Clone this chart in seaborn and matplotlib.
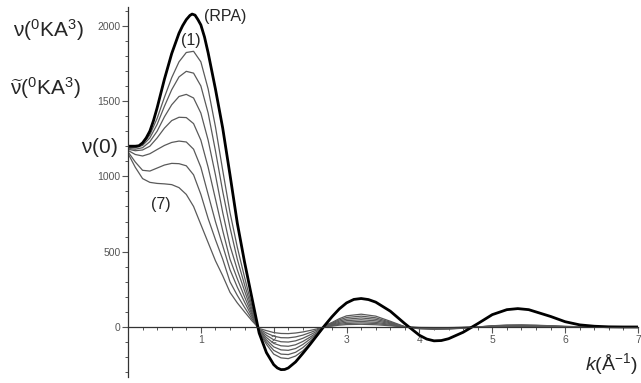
import numpy as np
import pandas as pd
import matplotlib
matplotlib.use("Agg")
import matplotlib.pyplot as plt
from matplotlib.ticker import MultipleLocator, FixedLocator
import seaborn as sns

# ---- data ----
k = [0.0, 0.1, 0.2, 0.3, 0.4, 0.5, 0.6, 0.7, 0.8, 0.9, 1.0, 1.1, 1.2, 1.3, 1.4,
     1.5, 1.6, 1.7, 1.8, 1.9, 2.0, 2.1, 2.2, 2.3, 2.4, 2.5, 2.6, 2.7, 2.8, 2.9,
     3.0, 3.2, 3.4, 3.6, 3.8, 4.0, 4.2, 4.4, 4.6, 4.8, 5.0, 5.2, 5.4, 5.6, 5.8,
     6.0, 6.2, 6.4, 6.6, 6.8, 7.0]

k_rpa = [0.0, 0.1, 0.15, 0.2, 0.25, 0.3, 0.35, 0.4, 0.5, 0.6, 0.7, 0.75, 0.8,
         0.85, 0.88, 0.92, 0.96, 1.0, 1.05, 1.1, 1.2, 1.3, 1.4, 1.5, 1.6, 1.7,
         1.8, 1.9, 2.0, 2.05, 2.1, 2.15, 2.2, 2.3, 2.4, 2.5, 2.6, 2.7, 2.8, 2.9,
         3.0, 3.1, 3.2, 3.3, 3.4, 3.6, 3.8, 4.0, 4.1, 4.2, 4.3, 4.4, 4.6, 4.8,
         5.0, 5.2, 5.35, 5.5, 5.6, 5.8, 6.0, 6.2, 6.4, 6.6, 6.8, 7.0]
rpa = [1200, 1200, 1203, 1222, 1255, 1300, 1370, 1455, 1645, 1815, 1950, 2000,
       2040, 2068, 2077, 2070, 2040, 2005, 1925, 1820, 1580, 1320, 1010, 690,
       430, 195, -40, -170, -250, -272, -283, -282, -272, -232, -175, -115, -52,
       10, 68, 120, 160, 183, 189, 182, 165, 105, 22, -55, -80, -92, -90, -78,
       -35, 22, 82, 115, 122, 115, 100, 70, 35, 14, 5, 1, 0, 0]

c1 = [1198, 1195, 1212, 1275, 1385, 1525, 1655, 1760, 1822, 1830, 1760, 1580,
      1330, 1040, 760, 530, 330, 140, -35, -115, -180, -205, -210, -193, -158,
      -110, -57, 10, 30, 55, 74, 85, 72, 38, 2, -12, -16, -14, -8, 0, 8, 13, 14,
      12, 8, 4, 2, 0, 0, 0, 0]
c2 = [1192, 1190, 1205, 1255, 1345, 1465, 1575, 1660, 1697, 1685, 1600, 1420,
      1170, 900, 660, 450, 280, 120, -30, -100, -155, -180, -183, -168, -137,
      -95, -50, 9, 25, 47, 63, 72, 61, 32, 1, -10, -14, -12, -7, 0, 7, 11, 12,
      10, 7, 3, 2, 0, 0, 0, 0]
c3 = [1186, 1180, 1190, 1230, 1300, 1395, 1475, 1530, 1544, 1520, 1420, 1240,
      1010, 760, 540, 380, 240, 100, -25, -85, -132, -152, -155, -143, -116,
      -80, -42, 8, 21, 39, 52, 60, 51, 27, 1, -8, -11, -10, -6, 0, 6, 9, 10, 8,
      6, 3, 1, 0, 0, 0, 0]
c4 = [1180, 1170, 1175, 1200, 1255, 1320, 1370, 1392, 1390, 1350, 1240, 1060,
      850, 640, 450, 320, 200, 85, -22, -70, -109, -125, -128, -118, -96, -67,
      -35, 6, 17, 31, 42, 48, 41, 22, 1, -7, -9, -8, -4, 0, 4, 7, 8, 7, 4, 2, 1,
      0, 0, 0, 0]
c5 = [1172, 1145, 1135, 1150, 1178, 1205, 1225, 1234, 1228, 1180, 1060, 880,
      700, 540, 380, 265, 165, 70, -18, -55, -85, -98, -100, -92, -75, -52, -27,
      5, 13, 24, 32, 37, 31, 17, 0, -5, -7, -6, -4, 0, 4, 6, 6, 5, 4, 2, 1, 0,
      0, 0, 0]
c6 = [1163, 1095, 1040, 1035, 1055, 1075, 1086, 1084, 1070, 1010, 880, 720,
      580, 450, 300, 210, 130, 55, -14, -40, -61, -71, -72, -66, -54, -37, -19,
      4, 9, 18, 23, 27, 23, 12, 0, -4, -6, -5, -3, 0, 3, 5, 5, 4, 3, 1, 1, 0, 0,
      0, 0]
c7 = [1152, 1060, 985, 960, 953, 950, 945, 925, 880, 800, 680, 560, 440, 340,
      230, 160, 100, 42, -10, -24, -37, -43, -44, -40, -33, -23, -12, 2, 6, 12,
      16, 18, 15, 8, 0, -3, -4, -4, -2, 0, 2, 3, 4, 3, 2, 1, 0, 0, 0, 0, 0]

thin_names = ["(1)", "(2)", "(3)", "(4)", "(5)", "(6)", "(7)"]
thin_series = [c1, c2, c3, c4, c5, c6, c7]

x_ticks = [1, 2, 3, 4, 5, 6, 7]
y_ticks = [0, 500, 1000, 1500, 2000]

# ---- build long-form table ----
frames = []
for name, vals in zip(thin_names, thin_series):
    frames.append(pd.DataFrame({"k": k, "v": vals, "curve": name}))
thin_df = pd.concat(frames, ignore_index=True)
rpa_df = pd.DataFrame({"k": k_rpa, "v": rpa, "curve": "RPA"})

sns.set_style("white")
plt.rcParams["font.family"] = ["Liberation Sans", "DejaVu Sans"]
plt.rcParams["mathtext.fontset"] = "custom"
plt.rcParams["mathtext.rm"] = "Liberation Sans"
plt.rcParams["mathtext.it"] = "Liberation Sans:italic"
plt.rcParams["lines.solid_joinstyle"] = "round"
plt.rcParams["lines.solid_capstyle"] = "round"

fig = plt.figure(figsize=(6.41, 3.83), dpi=100)
ax = fig.add_axes([128 / 641, 1 - 377 / 383, (638 - 128) / 641, (377 - 7) / 383])

sns.lineplot(data=thin_df, x="k", y="v", hue="curve",
             palette={n: "#5a5a5a" for n in thin_names},
             estimator=None, sort=False, linewidth=0.9, legend=False, ax=ax)
sns.lineplot(data=rpa_df, x="k", y="v", color="black", estimator=None,
             sort=False, linewidth=2.0, legend=False, ax=ax)

ax.set_xlim(0, 7)
ax.set_ylim(-332, 2124)
ax.set_xlabel("")
ax.set_ylabel("")

for s in ["top", "right"]:
    ax.spines[s].set_visible(False)
ax.spines["bottom"].set_position(("data", 0))
ax.spines["left"].set_position(("data", 0))
for s in ["bottom", "left"]:
    ax.spines[s].set_color("#333333")
    ax.spines[s].set_linewidth(0.9)

ax.xaxis.set_major_locator(FixedLocator(x_ticks))
ax.xaxis.set_minor_locator(MultipleLocator(0.2))
ax.yaxis.set_major_locator(FixedLocator(y_ticks))
ax.yaxis.set_minor_locator(MultipleLocator(100))
ax.set_xticklabels([str(t) for t in x_ticks])
ax.set_yticklabels([str(t) for t in y_ticks])

tick_font = ["Liberation Sans Narrow", "Liberation Sans", "DejaVu Sans"]
ax.tick_params(axis="both", which="both", bottom=True, left=True,
               top=False, right=False, direction="out")
ax.tick_params(axis="both", which="major", length=4, width=0.8,
               color="#555555", labelsize=7.5, labelcolor="#555555", pad=1.5)
ax.tick_params(axis="both", which="minor", length=2.5, width=0.7,
               color="#555555")
for lab in ax.get_xticklabels() + ax.get_yticklabels():
    lab.set_family(tick_font)

# ---- annotations ----
big = 15
fig.text(13 / 641, 1 - 30 / 383, r"$\mathrm{\nu(^{0}KA^{3})}$", fontsize=big,
         va="center", ha="left")
fig.text(10 / 641, 1 - 88 / 383, r"$\mathrm{\widetilde{\nu}(^{0}KA^{3})}$",
         fontsize=big, va="center", ha="left")
fig.text(81 / 641, 1 - 148 / 383, r"$\mathrm{\nu(0)}$", fontsize=big,
         va="center", ha="left")
fig.text(204 / 641, 1 - 16 / 383, "(RPA)", fontsize=11.5, va="center", ha="left")
fig.text(181 / 641, 1 - 41 / 383, "(1)", fontsize=11.5, va="center", ha="left")
fig.text(151 / 641, 1 - 204 / 383, "(7)", fontsize=11.5, va="center", ha="left")
fig.text(638 / 641, 1 - 364 / 383, r"$\mathit{k}\mathrm{(\AA^{-1})}$",
         fontsize=14, va="center", ha="right")

fig.savefig("out.png", dpi=100)
